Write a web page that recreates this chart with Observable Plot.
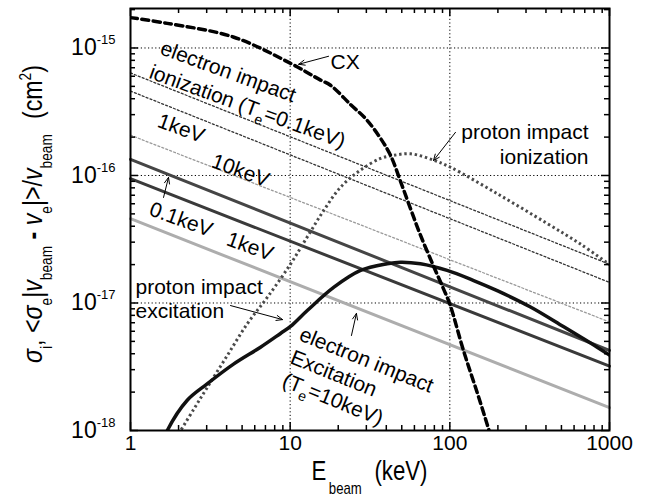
<!DOCTYPE html>
<html><head><meta charset="utf-8">
<script src="https://cdn.jsdelivr.net/npm/d3@7"></script>
<script src="https://cdn.jsdelivr.net/npm/@observablehq/plot@0.6"></script>
<style>body{margin:0;background:#fff;} svg{display:block;}</style>
</head><body>
<div id="chart"></div>
<script>
const FONT = "'Liberation Sans', Arial, Helvetica, sans-serif";

// ---- axis ticks ----
const xMajor = [1, 10, 100, 1000];
const xMinor = [2,3,4,5,6,7,8,9,20,30,40,50,60,70,80,90,200,300,400,500,600,700,800,900];
const yMajor = [1e-18, 1e-17, 1e-16, 1e-15];
const yMinor = [2e-18,3e-18,4e-18,5e-18,6e-18,7e-18,8e-18,9e-18,
                2e-17,3e-17,4e-17,5e-17,6e-17,7e-17,8e-17,9e-17,
                2e-16,3e-16,4e-16,5e-16,6e-16,7e-16,8e-16,9e-16,2e-15];
const xGrid = [10, 100];
const yGrid = [1e-17, 1e-16, 1e-15];

// ---- charge exchange (CX) ----
const cxE = [1, 1.7, 4.4, 10, 15.5, 17.9, 23.9, 29.6, 35.8, 42.5, 49.1, 56.7, 65.5, 79, 91.3, 100, 122, 149, 172, 185];
const cxSigma = [1.73e-15, 1.56e-15, 1.22e-15, 7.6e-16, 5.6e-16, 5.1e-16, 3.6e-16, 2.8e-16, 2.06e-16, 1.44e-16,
                 9.0e-17, 5.5e-17, 3.4e-17, 1.95e-17, 1.29e-17, 9.8e-18, 4.2e-18, 1.95e-18, 1.1e-18, 8.1e-19];

// ---- proton impact ionization ----
const pionE = [2.0, 2.5, 3.0, 4.0, 5.4, 7.2, 10, 12.8, 16.2, 20.7, 27.5, 36.8, 44.6, 56.7, 79, 101, 198, 407, 658, 1000];
const pionSigma = [9.4e-19, 1.48e-18, 2.14e-18, 3.8e-18, 6.9e-18, 1.11e-17, 2.0e-17, 3.3e-17, 5.3e-17, 8.1e-17,
                   1.1e-16, 1.36e-16, 1.44e-16, 1.48e-16, 1.32e-16, 1.16e-16, 7.2e-17, 4.2e-17, 2.9e-17, 2.0e-17];

// ---- proton impact excitation ----
const pexcE = [1.6, 1.7, 2.26, 3.02, 4.44, 6.52, 8.7, 10.05, 12.8, 18.8, 27.6, 40.5, 49.1, 65.5, 96.2, 141, 198, 320, 517, 837, 1000];
const pexcSigma = [8.2e-19, 1.0e-18, 1.72e-18, 2.32e-18, 3.33e-18, 4.5e-18, 5.77e-18, 6.55e-18, 8.73e-18, 1.33e-17, 1.8e-17,
                   2.03e-17, 2.09e-17, 2.03e-17, 1.8e-17, 1.5e-17, 1.25e-17, 9.3e-18, 6.5e-18, 4.5e-18, 3.9e-18];

// ---- electron impact (Maxwellian rates / v_beam), straight power laws ----
const E_ends = [1, 1000];
const eIonTe01 = [6.37e-16, 2.01e-17];
const eIonTe1  = [4.59e-16, 1.45e-17];
const eIonTe10 = [2.07e-16, 7.1e-18];
const eExcTe01 = [1.34e-16, 4.24e-18];
const eExcTe1  = [9.44e-17, 3.2e-18];
const eExcTe10 = [4.58e-17, 1.51e-18];

// ---- annotations ----
const rotLabels = ["electron impact", "ionization (T_{e}=0.1keV)", "1keV", "10keV", "0.1keV", "1keV",
                   "electron impact", "Excitation", "(T_{e}=10keV)"];
const rotX = [1.56, 1.33, 1.50, 3.26, 1.33, 4.05, 11.6, 10.2, 9.08];
const rotY = [1.01e-15, 6.56e-16, 2.71e-16, 1.31e-16, 5.52e-17, 3.21e-17, 5.77e-18, 3.8e-18, 2.51e-18];
const rotAngle = [20, 20, 20, 20, 20, 20, 22, 22, 22];

const endLabels = ["proton impact", "ionization"];
const endX = [739, 739];
const endY = [2.19e-16, 1.40e-16];

const startLabels = ["CX", "proton impact", "excitation"];
const startX = [17.9, 1.075, 1.075];
const startY = [7.72e-16, 1.33e-17, 8.63e-18];

const arrX1 = [17.4, 108.5, 1.61, 4.23, 24.2];
const arrY1 = [8.61e-16, 2.18e-16, 6.73e-17, 9.55e-18, 5.56e-18];
const arrX2 = [11.3, 79, 1.73, 8.96, 26.0];
const arrY2 = [7.45e-16, 1.31e-16, 9.66e-17, 7.41e-18, 8.28e-18];

// ---- build ----
const rows = (xs, ys) => xs.map((x, i) => ({x, y: ys[i]}));
const W = 648, H = 498, mL = 130, mR = 39, mT = 8, mB = 68;
const plotW = W - mL - mR, plotH = H - mT - mB;

const dotted = {x: "x", y: "y", stroke: "#333", strokeWidth: 1.3, strokeDasharray: "2,2.2"};
const dottedLight = {x: "x", y: "y", stroke: "#9a9a9a", strokeWidth: 1.3, strokeDasharray: "2,2.2"};

const chart = Plot.plot({
  width: W, height: H,
  marginLeft: mL, marginRight: mR, marginTop: mT, marginBottom: mB,
  x: {type: "log", domain: [1, 1000]},
  y: {type: "log", domain: [1e-18, 2.04e-15]},
  style: {fontFamily: FONT, background: "white", color: "black"},
  marks: [
    Plot.ruleX(xGrid, {stroke: "#000", strokeWidth: 1, strokeDasharray: "1.2,2.4"}),
    Plot.ruleY(yGrid, {stroke: "#000", strokeWidth: 1, strokeDasharray: "1.2,2.4"}),
    Plot.line(rows(E_ends, eIonTe01), dotted),
    Plot.line(rows(E_ends, eIonTe1), dotted),
    Plot.line(rows(E_ends, eIonTe10), dottedLight),
    Plot.line(rows(E_ends, eExcTe01), {x: "x", y: "y", stroke: "#454545", strokeWidth: 3}),
    Plot.line(rows(E_ends, eExcTe1), {x: "x", y: "y", stroke: "#3a3a3a", strokeWidth: 3}),
    Plot.line(rows(E_ends, eExcTe10), {x: "x", y: "y", stroke: "#adadad", strokeWidth: 3}),
    Plot.line(rows(pionE, pionSigma), {x: "x", y: "y", stroke: "#4a4a4a", strokeWidth: 3, strokeDasharray: "2.4,2.8", strokeLinecap: "butt", curve: "catmull-rom", clip: true}),
    Plot.line(rows(pexcE, pexcSigma), {x: "x", y: "y", stroke: "#111", strokeWidth: 3.5, curve: "catmull-rom", clip: true}),
    Plot.line(rows(cxE, cxSigma), {x: "x", y: "y", stroke: "#000", strokeWidth: 3.5, strokeDasharray: "7,4.5", curve: "catmull-rom", clip: true}),
    Plot.text(rotLabels.map((t, i) => ({t, x: rotX[i], y: rotY[i], r: rotAngle[i]})),
      {x: "x", y: "y", text: "t", rotate: "r", textAnchor: "start", fontSize: 21, fill: "#000"}),
    Plot.text(endLabels.map((t, i) => ({t, x: endX[i], y: endY[i]})),
      {x: "x", y: "y", text: "t", textAnchor: "end", fontSize: 21, fill: "#000"}),
    Plot.text(startLabels.map((t, i) => ({t, x: startX[i], y: startY[i]})),
      {x: "x", y: "y", text: "t", textAnchor: "start", fontSize: 21, fill: "#000"}),
    Plot.arrow(arrX1.map((x1, i) => ({x1, y1: arrY1[i], x2: arrX2[i], y2: arrY2[i]})),
      {x1: "x1", y1: "y1", x2: "x2", y2: "y2", stroke: "#000", strokeWidth: 1, headLength: 10, headAngle: 45}),
    Plot.frame({stroke: "#000", strokeWidth: 2}),
    Plot.tickX(xMajor, {insetTop: plotH - 8, stroke: "#000", strokeWidth: 1.5}),
    Plot.tickX(xMinor, {insetTop: plotH - 5, stroke: "#000", strokeWidth: 1.5}),
    Plot.tickX(xMajor, {insetBottom: plotH - 8, stroke: "#000", strokeWidth: 1.5}),
    Plot.tickX(xMinor, {insetBottom: plotH - 5, stroke: "#000", strokeWidth: 1.5}),
    Plot.tickY(yMajor, {insetRight: plotW - 8, stroke: "#000", strokeWidth: 1.5}),
    Plot.tickY(yMinor, {insetRight: plotW - 5, stroke: "#000", strokeWidth: 1.5}),
    Plot.tickY(yMajor, {insetLeft: plotW - 8, stroke: "#000", strokeWidth: 1.5}),
    Plot.tickY(yMinor, {insetLeft: plotW - 5, stroke: "#000", strokeWidth: 1.5}),
    Plot.axisX({ticks: xMajor, tickSize: 0, tickPadding: 5, fontSize: 21, tickFormat: d => String(d), label: null}),
    Plot.axisY({ticks: yMajor, tickSize: 0, tickPadding: 15, fontSize: 23,
      tickFormat: d => `10^{-${Math.round(-Math.log10(d))}}`, label: null})
  ]
});
document.getElementById("chart").append(chart);

// ---- rich text (sub/superscripts) ----
const NS = "http://www.w3.org/2000/svg";
function richify(el) {
  const s = el.textContent;
  if (!/[_^]\{/.test(s)) return;
  const fs = parseFloat(getComputedStyle(el).fontSize) || 20;
  const re = /([_^])\{([^}]*)\}/g;
  const parts = []; let last = 0, m;
  while ((m = re.exec(s))) {
    if (m.index > last) parts.push({t: s.slice(last, m.index)});
    parts.push({t: m[2], k: m[1]});
    last = re.lastIndex;
  }
  if (last < s.length) parts.push({t: s.slice(last)});
  el.textContent = "";
  let cur = 0;
  for (const p of parts) {
    const ts = document.createElementNS(NS, "tspan");
    let target = 0;
    if (p.k === "_") { target = fs * 0.3; ts.setAttribute("font-size", Math.round(fs * 0.66)); }
    if (p.k === "^") { target = -fs * 0.48; ts.setAttribute("font-size", Math.round(fs * 0.57)); }
    ts.setAttribute("dy", (target - cur).toFixed(2));
    cur = target;
    ts.textContent = p.t;
    el.appendChild(ts);
  }
}
chart.querySelectorAll("text").forEach(richify);

// ---- axis titles ----
const svg = d3.select(chart);
function title(pieces, size, subSize, subDy, supDy, tf, target) {
  const t = svg.append("text").attr("font-family", FONT).attr("font-size", size)
    .attr("text-anchor", "middle").attr("fill", "#000");
  let cur = 0;
  for (const p of pieces) {
    const ts = t.append("tspan").text(p.t);
    const tgt = p.sub ? subDy : p.sup ? supDy : 0;
    ts.attr("dy", tgt - cur); cur = tgt;
    if (p.sub || p.sup) ts.attr("font-size", subSize);
    if (p.it) ts.attr("font-style", "italic");
    if (p.b) ts.attr("font-weight", "bold");
    if (p.dx) ts.attr("dx", p.dx);
  }
  const w = t.node().getBBox().width;
  t.attr("transform", `${tf} scale(${(target / w).toFixed(4)},1)`);
}
title([{t: "E"}, {t: "beam", sub: true, dx: 3}, {t: " (keV)", dx: 8}], 27, 16, 14, 0,
  "translate(369.5,480)", 116);
title([{t: "σ", it: true}, {t: "i", sub: true}, {t: ", <"}, {t: "σ", it: true}, {t: "e", sub: true},
       {t: "|"}, {t: "v", it: true}, {t: "beam", sub: true}, {t: " "}, {t: "-", b: true}, {t: " "},
       {t: "v", it: true}, {t: "e", sub: true}, {t: "|>/"}, {t: "v", it: true}, {t: "beam", sub: true},
       {t: " (cm", dx: 10}, {t: "2", sup: true}, {t: ")"}],
  27, 16, 10, -11, "translate(42,214) rotate(-90)", 298);
</script>
</body></html>
